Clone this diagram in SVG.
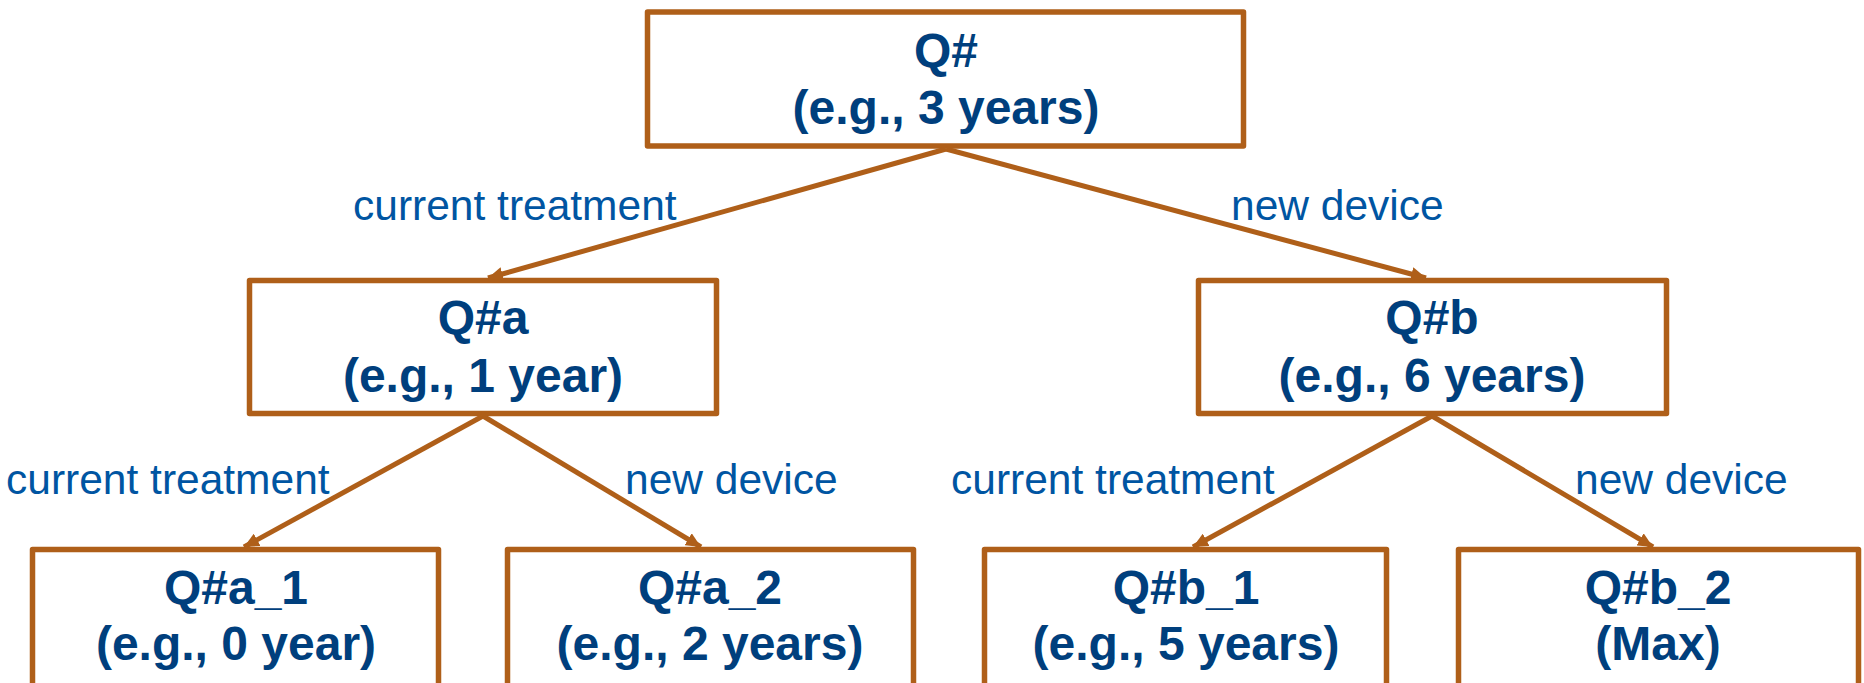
<svg xmlns="http://www.w3.org/2000/svg" width="1864" height="683" viewBox="0 0 1864 683">
<style>
.box{fill:#fff;stroke:#AF5F19;stroke-width:5.5;stroke-linejoin:round}
.t{font-family:"Liberation Sans",Arial,sans-serif;font-weight:bold;font-size:48px;fill:#003F7D;text-anchor:middle}
.lbl{font-family:"Liberation Sans",Arial,sans-serif;font-size:42.5px;fill:#0055A2}
.c{stroke:#AF5F19;stroke-width:5;fill:none}
</style>
<defs>
<marker id="ah" markerUnits="userSpaceOnUse" markerWidth="16" markerHeight="14" refX="15" refY="7" orient="auto">
<path d="M0,0 L15,7 L0,14 Z" fill="#AF5F19"/>
</marker>
</defs>
<rect width="1864" height="683" fill="#fff"/>
<g id="n-root">
<rect class="box" x="647.5" y="12" width="596" height="134"/>
<text class="t" x="946" y="67">Q#</text>
<text class="t" x="946" y="124">(e.g., 3 years)</text>
</g>
<g id="n-a">
<rect class="box" x="249.5" y="280.5" width="467" height="133"/>
<text class="t" x="483" y="334">Q#a</text>
<text class="t" x="483" y="392">(e.g., 1 year)</text>
</g>
<g id="n-b">
<rect class="box" x="1198.5" y="280.5" width="468" height="133"/>
<text class="t" x="1432" y="334">Q#b</text>
<text class="t" x="1432" y="392">(e.g., 6 years)</text>
</g>
<g id="n-a1">
<rect class="box" x="32.5" y="549.5" width="406" height="150"/>
<text class="t" x="236" y="604">Q#a_1</text>
<text class="t" x="236" y="660">(e.g., 0 year)</text>
</g>
<g id="n-a2">
<rect class="box" x="507.5" y="549.5" width="406" height="150"/>
<text class="t" x="710" y="604">Q#a_2</text>
<text class="t" x="710" y="660">(e.g., 2 years)</text>
</g>
<g id="n-b1">
<rect class="box" x="984.5" y="549.5" width="402" height="150"/>
<text class="t" x="1186" y="604">Q#b_1</text>
<text class="t" x="1186" y="660">(e.g., 5 years)</text>
</g>
<g id="n-b2">
<rect class="box" x="1458.5" y="549.5" width="400" height="150"/>
<text class="t" x="1658" y="604">Q#b_2</text>
<text class="t" x="1658" y="660">(Max)</text>
</g>
<g id="connectors">
<line class="c" x1="946" y1="149" x2="488" y2="278" marker-end="url(#ah)"/>
<line class="c" x1="946" y1="149" x2="1426" y2="278" marker-end="url(#ah)"/>
<line class="c" x1="483" y1="416" x2="244" y2="547" marker-end="url(#ah)"/>
<line class="c" x1="483" y1="416" x2="701" y2="547" marker-end="url(#ah)"/>
<line class="c" x1="1432" y1="416" x2="1193" y2="547" marker-end="url(#ah)"/>
<line class="c" x1="1432" y1="416" x2="1653" y2="547" marker-end="url(#ah)"/>
<text class="lbl" x="353" y="220">current treatment</text>
<text class="lbl" x="1231" y="220">new device</text>
<text class="lbl" x="6" y="494">current treatment</text>
<text class="lbl" x="625" y="494">new device</text>
<text class="lbl" x="951" y="494">current treatment</text>
<text class="lbl" x="1575" y="494">new device</text>
</g>
</svg>
